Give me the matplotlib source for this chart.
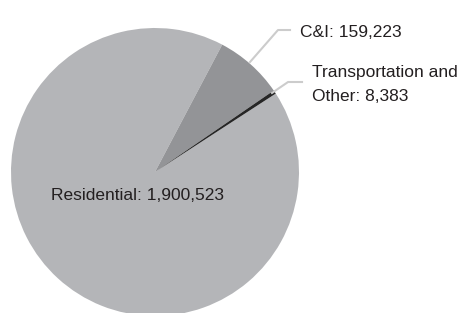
import numpy as np
import matplotlib.pyplot as plt

labels = ["Residential", "C&I", "Transportation and\nOther"]
values = [1900523, 159223, 8383]
colors = ["#b4b5b8", "#939497", "#262626"]

fig = plt.figure(figsize=(4.58, 3.13), dpi=100)
ax = fig.add_axes([0, 0, 1, 1])
ax.pie(values, colors=colors, startangle=33.0, counterclock=False,
       radius=1.0, center=(0, 0), wedgeprops=dict(linewidth=0))
# pie centre sits at about (155, 172) px, radius 144 px
ax.set_xlim(-155 / 144, 303 / 144)
ax.set_ylim(-141 / 144, 172 / 144)
ax.set_aspect("auto")
ax.axis("off")

txt = dict(fontsize=12.5, family="Liberation Sans", color="#231f20")
line = dict(color="#cccccc", lw=1.5)

# residential label inside
ax.text(-0.724, -0.194, f"{labels[0]}: {values[0]:,}", ha="left", va="baseline", **txt)

# C&I leader
ax.plot([0.660, 0.854, 0.9375], [0.764, 0.986, 0.986], **line)
ax.text(1.007, 0.935, f"{labels[1]}: {values[1]:,}", ha="left", va="baseline", **txt)

# transportation leader
ax.plot([0.8125, 0.924, 1.021], [0.549, 0.625, 0.625], **line)
ax.text(1.088, 0.495, f"{labels[2]}: {values[2]:,}", ha="left", va="baseline",
        linespacing=1.72, **txt)

fig.savefig("out.png", dpi=100)
